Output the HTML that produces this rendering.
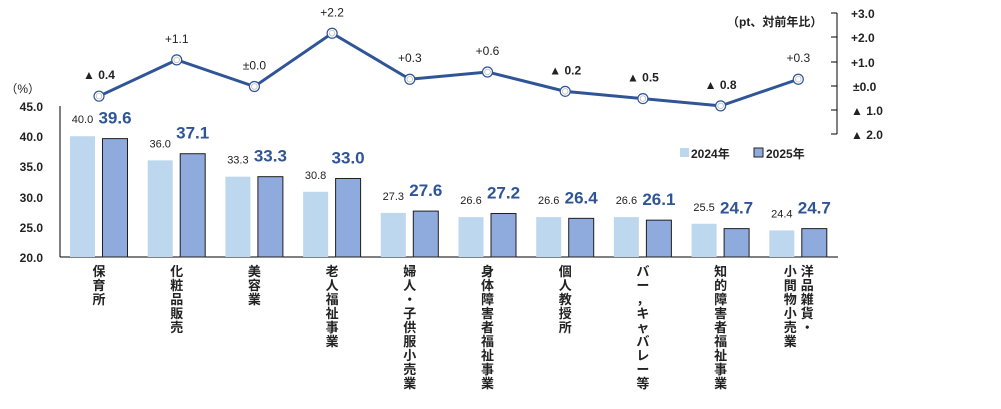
<!DOCTYPE html>
<html><head><meta charset="utf-8"><style>
body{margin:0;background:#fff;}
svg text{font-family:"Liberation Sans","Noto Sans CJK JP",sans-serif;}
</style></head><body>
<svg width="1001" height="404" viewBox="0 0 1001 404" xmlns="http://www.w3.org/2000/svg">
<g id="bars"></g>
<script>
</script>
<!-- left axis -->
<line x1="60" y1="106" x2="60" y2="257" stroke="#000" stroke-width="1"/>
<line x1="60" y1="257" x2="838" y2="257" stroke="#000" stroke-width="1"/>
<g font-size="12" font-weight="bold" text-anchor="end" fill="#222">
<text x="43" y="111">45.0</text>
<text x="43" y="141">40.0</text>
<text x="43" y="171">35.0</text>
<text x="43" y="202">30.0</text>
<text x="43" y="232">25.0</text>
<text x="43" y="262">20.0</text>
<text x="40" y="93" font-weight="normal">（%）</text>
</g>
<!-- right axis -->
<g stroke="#000" stroke-width="1">
<line x1="837" y1="13" x2="837" y2="134"/>
<line x1="831" y1="13" x2="837" y2="13"/>
<line x1="831" y1="37" x2="837" y2="37"/>
<line x1="831" y1="62" x2="837" y2="62"/>
<line x1="831" y1="86" x2="837" y2="86"/>
<line x1="831" y1="110" x2="837" y2="110"/>
<line x1="831" y1="134" x2="837" y2="134"/>
</g>
<g font-size="12" font-weight="bold" fill="#222">
<text x="851" y="18">+3.0</text>
<text x="851" y="42">+2.0</text>
<text x="851" y="67">+1.0</text>
<text x="853" y="91">±0.0</text>
<text x="851" y="115">▲ 1.0</text>
<text x="851" y="139">▲ 2.0</text>
<text x="727" y="26">（pt、対前年比）</text>
</g>
<!-- legend -->
<rect x="680" y="148" width="9" height="9" fill="#bdd7ee"/>
<text x="691" y="158" font-size="12" font-weight="bold" fill="#222">2024年</text>
<rect x="754" y="148" width="9" height="9" fill="#8faadc" stroke="#222" stroke-width="1"/>
<text x="766" y="158" font-size="12" font-weight="bold" fill="#222">2025年</text>
<g id="dyn"></g>
</svg>
<script>
const NS="http://www.w3.org/2000/svg";
const g=document.getElementById("dyn");
function el(t,a,txt){const e=document.createElementNS(NS,t);for(const k in a)e.setAttribute(k,a[k]);if(txt!==undefined)e.textContent=txt;g.appendChild(e);return e;}
const a=[40,36,33.3,30.8,27.3,26.6,26.6,26.6,25.5,24.4];
const b=[39.6,37.1,33.3,33.0,27.6,27.2,26.4,26.1,24.7,24.7];
const d=[-0.4,1.1,0,2.2,0.3,0.6,-0.2,-0.5,-0.8,0.3];
const Y=v=>257-6.04*(v-20);
const lab=["保育所","化粧品販売","美容業","老人福祉事業","婦人・子供服小売業","身体障害者福祉事業","個人教授所","バー，キャバレー等","知的障害者福祉事業",null];
let pts=[];
for(let i=0;i<10;i++){
 const x0=70+77.7*i, x1=x0+32;
 el("rect",{x:x0,y:Y(a[i]),width:25,height:257-Y(a[i]),fill:"#bdd7ee"});
 el("rect",{x:x1+0.5,y:Y(b[i]),width:25,height:257-Y(b[i]),fill:"#8faadc",stroke:"#1f1f1f","stroke-width":1});
 el("text",{x:x0+12.5,y:Y(a[i])-13,"font-size":11,"text-anchor":"middle",fill:"#222"},a[i].toFixed(1));
 el("text",{x:x1+13,y:Y(b[i])-15,"font-size":17,"font-weight":"bold","text-anchor":"middle",fill:"#2f5597"},b[i].toFixed(1));
 const cx=x0+29; pts.push([cx,86.5-24.2*d[i]]);
 const cols = lab[i]?[[cx,lab[i]]]:[[cx+9,"洋品雑貨・"],[cx-8,"小間物小売業"]];
 cols.forEach(([x,s])=>{ [...s].forEach((ch,j)=>{
   el("text",{x:x,y:276+j*14,"font-size":13,"font-weight":"bold","text-anchor":"middle",fill:"#222"},ch);});});
}
el("polyline",{points:pts.map(p=>p.join(",")).join(" "),fill:"none",stroke:"#2f5597","stroke-width":3});
pts.forEach((p,i)=>{
 el("circle",{cx:p[0],cy:p[1],r:5,fill:"#fff",stroke:"#2f5597","stroke-width":1.2});
 el("circle",{cx:p[0],cy:p[1],r:2.8,fill:"#fff",stroke:"#aaa","stroke-width":0.6});
 const v=d[i]; const s=v>0?"+"+v.toFixed(1):(v<0?"▲ "+(-v).toFixed(1):"±0.0");
 el("text",{x:p[0],y:p[1]-17,"font-size":12,"text-anchor":"middle",fill:"#222","font-weight":v<0?"bold":"normal"},s);
});
</script>
</body></html>
